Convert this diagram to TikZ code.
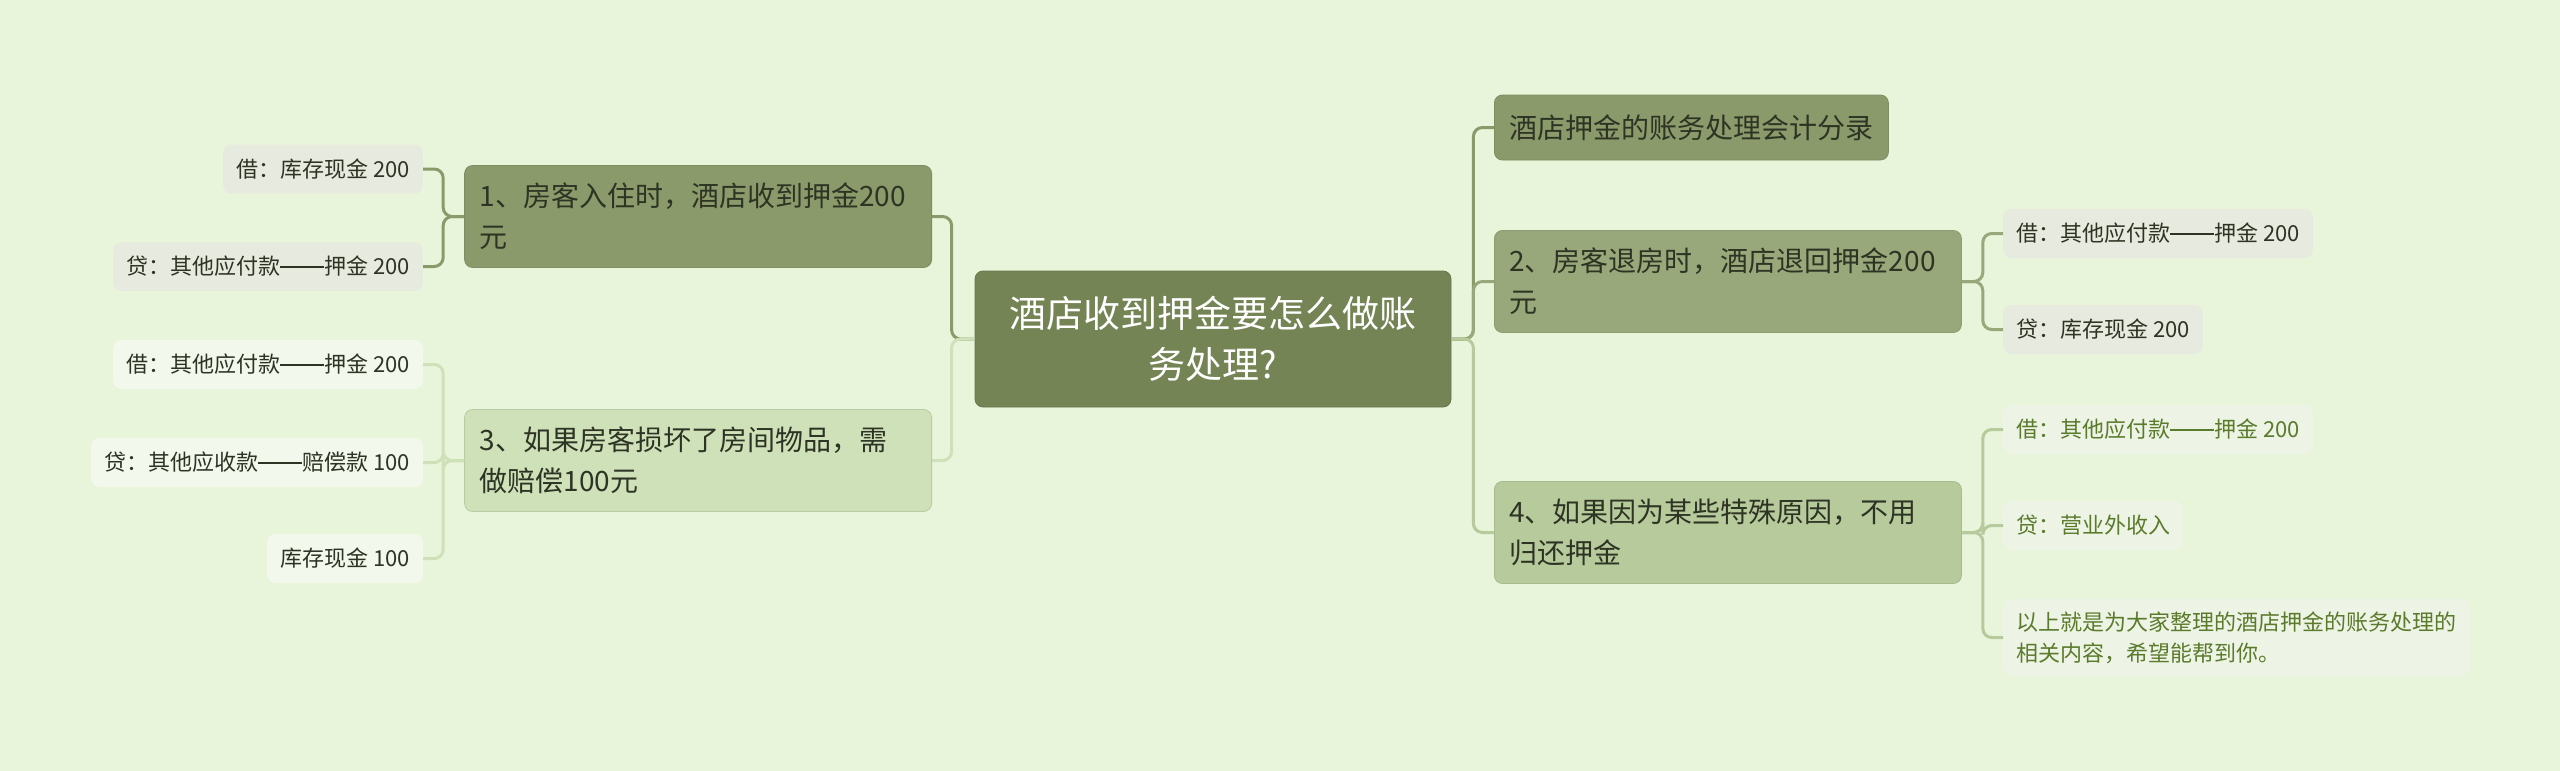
\documentclass[tikz,border=0pt]{standalone}
\usepackage{fontspec}
\newfontfamily\cjk{Noto Sans CJK SC}
\newcommand\wdash{\rule[0.33em]{2em}{0.06em}}
\definecolor{bg}{HTML}{E8F5DA}
\definecolor{cmain}{HTML}{748454}
\definecolor{cdark}{HTML}{8A9A6A}
\definecolor{cmid}{HTML}{98A87A}
\definecolor{clight}{HTML}{B7CA9C}
\definecolor{cpale}{HTML}{CFE1B9}
\definecolor{leafgrey}{HTML}{E7EBDF}
\definecolor{leafwhite}{HTML}{F3F8EC}
\definecolor{leafgreen}{HTML}{EEF4E5}
\definecolor{txtdark}{HTML}{2E3424}
\definecolor{txtgreen}{HTML}{5A7A2C}
\tikzset{
  base/.style={rounded corners=8pt, inner ysep=0pt, font=\cjk},
  mainbox/.style={base, fill=cmain, draw=cmain!90!black, line width=0.8pt, text=white,
    font=\cjk\fontsize{37}{51}\selectfont, align=center, minimum width=476, minimum height=136},
  subbox/.style={base, inner xsep=15pt, text=txtdark, align=left,
    font=\cjk\fontsize{28}{41}\selectfont},
  twoline/.style={subbox, text width=437pt, minimum height=102},
  leaf/.style={base, inner xsep=13pt, text=txtdark, font=\cjk\fontsize{22}{31}\selectfont,
    minimum height=49, align=left},
  conn/.style={line width=3pt, rounded corners=9pt},
}
\begin{document}
\begin{tikzpicture}[x=1pt,y=-1pt]
\fill[bg] (0,0) rectangle (2560,771);
\useasboundingbox (0,0) rectangle (2560,771);

% central
\node[mainbox] (C) at (1213,339) {酒店收到押金要怎么做账\\务处理?};

% left branches
\node[twoline, fill=cdark, draw=cdark!92!black, line width=0.8pt, anchor=east] (N1) at (932,216.5) {1、房客入住时，酒店收到押金200\\元};
\node[twoline, fill=cpale, draw=cpale!90!black, line width=0.8pt, anchor=east] (N3) at (932,460.5) {3、如果房客损坏了房间物品，需\\做赔偿100元};

\node[leaf, fill=leafgrey, anchor=east] (L1a) at (423,169) {借：库存现金 200};
\node[leaf, fill=leafgrey, anchor=east] (L1b) at (423,266.5) {贷：其他应付款\wdash 押金 200};

\node[leaf, fill=leafwhite, anchor=east] (L3a) at (423,364.5) {借：其他应付款\wdash 押金 200};
\node[leaf, fill=leafwhite, anchor=east] (L3b) at (423,462.5) {贷：其他应收款\wdash 赔偿款 100};
\node[leaf, fill=leafwhite, anchor=east] (L3c) at (423,558.5) {库存现金 100};

% right branches
\node[subbox, fill=cdark, draw=cdark!92!black, line width=0.8pt, minimum height=65, anchor=west] (R0) at (1494,127.5) {酒店押金的账务处理会计分录};
\node[twoline, fill=cmid, draw=cmid!92!black, line width=0.8pt, anchor=west] (R2) at (1494,281.5) {2、房客退房时，酒店退回押金200\\元};
\node[twoline, fill=clight, draw=clight!92!black, line width=0.8pt, anchor=west] (R4) at (1494,532.5) {4、如果因为某些特殊原因，不用\\归还押金};

\node[leaf, fill=leafgrey, anchor=west] (R2a) at (2003,233.5) {借：其他应付款\wdash 押金 200};
\node[leaf, fill=leafgrey, anchor=west] (R2b) at (2003,329.5) {贷：库存现金 200};

\node[leaf, fill=leafgreen, text=txtgreen, anchor=west] (R4a) at (2003,429.5) {借：其他应付款\wdash 押金 200};
\node[leaf, fill=leafgreen, text=txtgreen, anchor=west] (R4b) at (2003,525.5) {贷：营业外收入};
\node[leaf, fill=leafgreen, text=txtgreen, anchor=west, minimum height=77] (R4c) at (2003,637.5) {以上就是为大家整理的酒店押金的账务处理的\\相关内容，希望能帮到你。};

% connectors: centre to branches
\draw[conn, cdark] (C.west) -- ++(-23,0) |- (N1.east);
\draw[conn, cpale] (C.west) -- ++(-23,0) |- (N3.east);
\draw[conn, cdark] (C.east) -- ++(22,0) |- (R0.west);
\draw[conn, cmid] (C.east) -- ++(22,0) |- (R2.west);
\draw[conn, clight] (C.east) -- ++(22,0) |- (R4.west);

% connectors: branches to leaves
\draw[conn, cdark] (N1.west) -- ++(-21,0) |- (L1a.east);
\draw[conn, cdark] (N1.west) -- ++(-21,0) |- (L1b.east);
\draw[conn, cpale] (N3.west) -- ++(-21,0) |- (L3a.east);
\draw[conn, cpale] (N3.west) -- ++(-21,0) |- (L3b.east);
\draw[conn, cpale] (N3.west) -- ++(-21,0) |- (L3c.east);
\draw[conn, cmid] (R2.east) -- ++(21,0) |- (R2a.west);
\draw[conn, cmid] (R2.east) -- ++(21,0) |- (R2b.west);
\draw[conn, clight] (R4.east) -- ++(21,0) |- (R4a.west);
\draw[conn, clight] (R4.east) -- ++(21,0) |- (R4b.west);
\draw[conn, clight] (R4.east) -- ++(21,0) |- (R4c.west);
\end{tikzpicture}
\end{document}
